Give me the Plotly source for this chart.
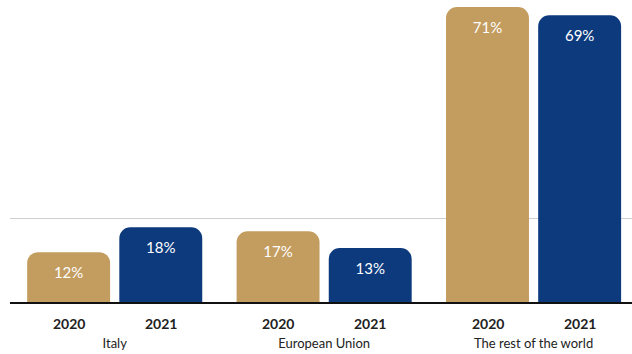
import plotly.graph_objects as go

groups = ["Italy", "European Union", "The rest of the world"]
years = ["2020", "2021"]
values_2020 = [12, 17, 71]
values_2021 = [18, 13, 69]
gold = "#C39C5F"
blue = "#0C3A7D"
font = "Lato"

fig = go.Figure()
for yr, vals, col in [(years[0], values_2020, gold), (years[1], values_2021, blue)]:
    fig.add_trace(go.Bar(
        x=groups, y=vals, name=yr,
        marker=dict(color=col, cornerradius=11, line=dict(width=0)),
        text=[f"{v}%" for v in vals],
        textposition="inside", insidetextanchor="end",
        textfont=dict(family=font, size=15, color="white"),
        cliponaxis=False,
    ))

# year labels under each bar
for i, g in enumerate(groups):
    for j, yr in enumerate(years):
        fig.add_annotation(
            x=g, xref="x", y=0, yref="paper", yanchor="top", yshift=-11,
            xshift=(-46 if j == 0 else 46),
            text=f"<b>{yr}</b>", showarrow=False,
            font=dict(family=font, size=14, color="#222222"),
        )

fig.update_layout(
    width=632, height=354,
    margin=dict(l=10, r=0, t=4, b=52),
    paper_bgcolor="white", plot_bgcolor="white",
    barmode="group", bargap=0.12, bargroupgap=0.1,
    showlegend=False,
    font=dict(family=font, size=13, color="#222222"),
)
fig.update_xaxes(
    range=[-0.5, 2.47], showline=True, linecolor="#111111", linewidth=1.5,
    ticks="", ticklabelstandoff=29, tickfont=dict(family=font, size=13, color="#222222"),
    showgrid=False,
)
fig.update_yaxes(
    range=[0, 71.7], tickvals=[20], showticklabels=False, showgrid=True,
    gridcolor="#CFCFCF", gridwidth=1, zeroline=False,
)
fig.write_html("out.html")
